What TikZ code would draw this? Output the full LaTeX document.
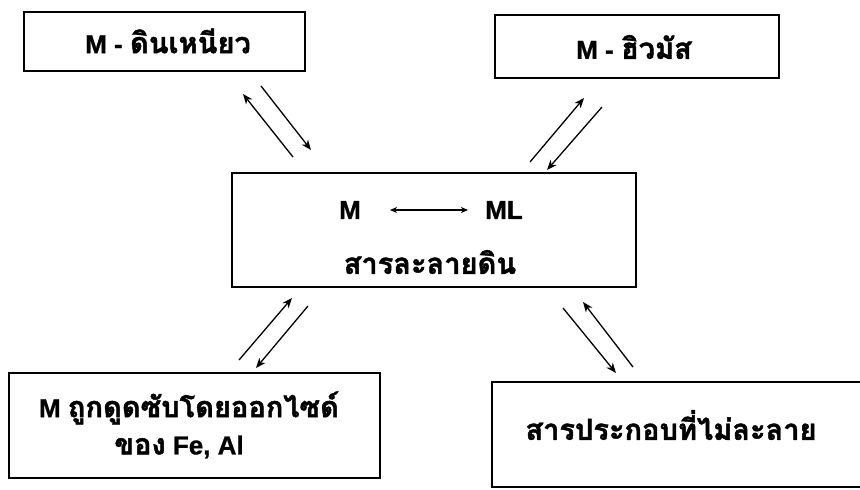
\documentclass[tikz,border=0pt]{standalone}
\usepackage{fontspec}
\setmainfont{Liberation Sans}[BoldFeatures={FakeBold=1}]
\newfontfamily\thai[Script=Thai,BoldFeatures={FakeBold=1.5}]{Loma}
\usetikzlibrary{arrows.meta}
\tikzset{
  box/.style={draw, line width=1.6pt},
  lbl/.style={font=\bfseries\fontsize{26}{30}\selectfont, inner sep=0pt},
  rx/.style={line width=1.3pt, -{Stealth[length=10pt,width=8pt,inset=3pt]}},
  dbl/.style={line width=1.3pt, {Stealth[length=7pt,width=6pt,inset=2pt]}-{Stealth[length=7pt,width=6pt,inset=2pt]}}
}
\newcommand{\thx}[1]{{\thai\fontsize{29}{32}\selectfont #1}}
\begin{document}
\begin{tikzpicture}[x=1pt,y=-1pt]
\useasboundingbox (0,0) rectangle (860,490);
% boxes
\draw[box] (24,12) rectangle (305,71);
\draw[box] (495,15) rectangle (779,78);
\draw[box] (232,173) rectangle (636,287);
\draw[box] (9,373) rectangle (380,478);
\draw[box] (862,382) -- (492,382) -- (492,487) -- (862,487);
% labels
\node[lbl] (clay) at (168,41) {M - \thx{ดินเหนียว}};
\node[lbl] (humus) at (634,47) {M - \thx{ฮิวมัส}};
\node[lbl] (m) at (350,210) {M};
\node[lbl] (ml) at (504,210) {ML};
\node[lbl] (sol) at (430,262) {\thx{สารละลายดิน}};
\node[lbl] (ox1) at (189,408) {M \thx{ถูกดูดซับโดยออกไซด์}};
\node[lbl] (ox2) at (179,447) {\thx{ของ} Fe, Al};
\node[lbl] (insol) at (671,425) {\thx{สารประกอบที่ไม่ละลาย}};
% inner arrow
\coordinate (a1) at (390,210);
\coordinate (a2) at (468,210);
\draw[dbl] (a1) -- (a2);
% reaction arrows
\coordinate (tl1) at (293,157); \coordinate (tl2) at (243,94);
\coordinate (tl3) at (261,86);  \coordinate (tl4) at (311,150);
\draw[rx] (tl1) -- (tl2);
\draw[rx] (tl3) -- (tl4);
\coordinate (tr1) at (530,162); \coordinate (tr2) at (584,98);
\coordinate (tr3) at (602,107); \coordinate (tr4) at (547,170);
\draw[rx] (tr1) -- (tr2);
\draw[rx] (tr3) -- (tr4);
\coordinate (bl1) at (239,360); \coordinate (bl2) at (292,298);
\coordinate (bl3) at (308,306); \coordinate (bl4) at (256,368);
\draw[rx] (bl1) -- (bl2);
\draw[rx] (bl3) -- (bl4);
\coordinate (br1) at (563,308); \coordinate (br2) at (616,373);
\coordinate (br3) at (633,367); \coordinate (br4) at (583,302);
\draw[rx] (br1) -- (br2);
\draw[rx] (br3) -- (br4);
\end{tikzpicture}
\end{document}
